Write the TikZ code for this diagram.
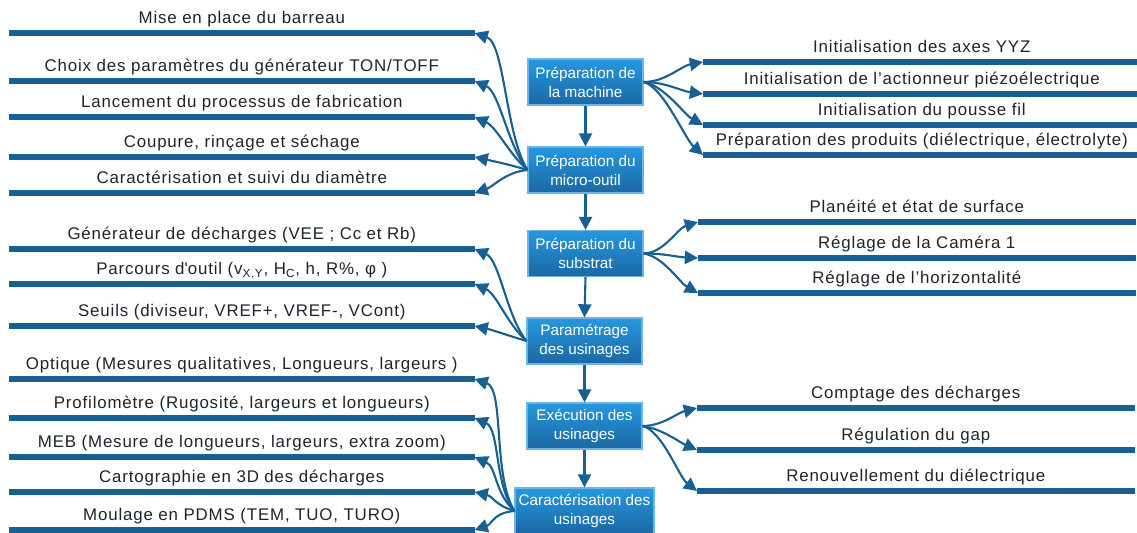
\documentclass[tikz,border=0pt]{standalone}
\usepackage{fontspec}
\setmainfont{Liberation Sans}
\newfontfamily\itemfont[LetterSpace=5]{Liberation Sans}
\usetikzlibrary{arrows.meta,positioning}
\definecolor{BarBlue}{RGB}{23,96,145}
\definecolor{BoxTop}{RGB}{38,152,222}
\definecolor{BoxBottom}{RGB}{26,104,164}
\definecolor{BoxEdge}{RGB}{110,180,230}
\definecolor{TextDark}{RGB}{30,36,44}
\tikzset{
  stage/.style={draw=BoxEdge, line width=0.6pt, top color=BoxTop, bottom color=BoxBottom,
    text=white, align=center, font=\fontsize{8.7}{10.8}\selectfont,
    minimum width=2.3cm, minimum height=0.92cm, inner sep=1pt},
  litem/.style={anchor=south west, minimum width=9.3cm, text height=7.5pt, text depth=2pt,
    inner xsep=0pt, inner ysep=3pt, text=TextDark, font=\itemfont\fontsize{9.6}{11}\selectfont},
  ritem/.style={litem, minimum width=8.74cm},
  bar/.style={BarBlue, line width=3.4pt},
  feed/.style={BarBlue, line width=1.2pt, -{Triangle[length=7.5pt,width=7.5pt]}},
}

\begin{document}
\begin{tikzpicture}[x=0.02cm, y=0.02cm]
  \useasboundingbox (0,0) rectangle (1137,-533);

  % the six stages
  \node[stage] (b1) at (585.5,-82) {Préparation de\\la machine};
  \node[stage] (b2) at (585.5,-170) {Préparation du\\micro-outil};
  \node[stage] (b3) at (585.5,-253.5) {Préparation du\\substrat};
  \node[stage] (b4) at (584.5,-341) {Paramétrage\\des usinages};
  \node[stage] (b5) at (584.5,-426) {Exécution des\\usinages};
  \node[stage, minimum width=2.78cm] (b6) at (584.5,-511) {Caractérisation des\\usinages};

  \draw[feed] (b1.south) -- (b2.north);
  \draw[feed] (b2.south) -- (b3.north);
  \draw[feed] (b3.south) -- (b4.north);
  \draw[feed] (b4.south) -- (b5.north);
  \draw[feed] (b5.south) -- (b6.north);

  % left side items
  \node[litem] (l1) at (9,-33) {Mise en place du barreau};
  \node[litem] (l2) at (9,-81) {Choix des paramètres du générateur TON/TOFF};
  \node[litem] (l3) at (9,-117) {Lancement du processus de fabrication};
  \node[litem] (l4) at (9,-157) {Coupure, rinçage et séchage};
  \node[litem] (l5) at (9,-193) {Caractérisation et suivi du diamètre};
  \node[litem] (l6) at (9,-249) {Générateur de décharges (VEE ; Cc et Rb)};
  \node[litem] (l7) at (9,-284) {Parcours d\textquotesingle outil (v\textsubscript{X,Y}, H\textsubscript{C}, h, R\%, φ )};
  \node[litem] (l8) at (9,-326) {Seuils (diviseur, VREF+, VREF-, VCont)};
  \node[litem] (l9) at (9,-379) {Optique (Mesures qualitatives, Longueurs, largeurs )};
  \node[litem] (l10) at (9,-418) {Profilomètre (Rugosité, largeurs et longueurs)};
  \node[litem] (l11) at (9,-457) {MEB (Mesure de longueurs, largeurs, extra zoom)};
  \node[litem] (l12) at (9,-492) {Cartographie en 3D des décharges};
  \node[litem] (l13) at (9,-530) {Moulage en PDMS (TEM, TUO, TURO)};

  % right side items
  \node[ritem] (r1) at (703,-62) {Initialisation des axes YYZ};
  \node[ritem] (r2) at (703,-94) {Initialisation de l’actionneur piézoélectrique};
  \node[ritem] (r3) at (703,-125) {Initialisation du pousse fil};
  \node[ritem] (r4) at (703,-155) {Préparation des produits (diélectrique, électrolyte)};
  \node[ritem] (r5) at (698,-222) {Planéité et état de surface};
  \node[ritem] (r6) at (698,-258) {Réglage de la Caméra 1};
  \node[ritem] (r7) at (698,-293) {Réglage de l’horizontalité};
  \node[ritem] (r8) at (697,-408) {Comptage des décharges};
  \node[ritem] (r9) at (697,-450) {Régulation du gap};
  \node[ritem] (r10) at (697,-491) {Renouvellement du diélectrique};

  \foreach \n in {l1,l2,l3,l4,l5,l6,l7,l8,l9,l10,l11,l12,l13,r1,r2,r3,r4,r5,r6,r7,r8,r9,r10}
    \draw[bar] (\n.south west) -- (\n.south east);

  % micro-outil
  \draw[feed] (b2.west) .. controls +(-22,35) and +(30,-10) .. (l1.south east);
  \draw[feed] (b2.west) .. controls +(-20,25) and +(25,-11) .. (l2.south east);
  \draw[feed] (b2.west) .. controls +(-20,18) and +(22,-10) .. (l3.south east);
  \draw[feed] (b2.west) .. controls +(-20,6) and +(18,-4) .. (l4.south east);
  \draw[feed] (b2.west) .. controls +(-22,-2) and +(18,6) .. (l5.south east);
  % parametrage
  \draw[feed] (b4.west) .. controls +(-20,25) and +(25,-11) .. (l6.south east);
  \draw[feed] (b4.west) .. controls +(-20,18) and +(22,-10) .. (l7.south east);
  \draw[feed] (b4.west) .. controls +(-20,6) and +(18,-4) .. (l8.south east);
  % caracterisation
  \draw[feed] (b6.west) .. controls +(-22,35) and +(30,-10) .. (l9.south east);
  \draw[feed] (b6.west) .. controls +(-20,25) and +(25,-11) .. (l10.south east);
  \draw[feed] (b6.west) .. controls +(-20,18) and +(22,-10) .. (l11.south east);
  \draw[feed] (b6.west) .. controls +(-20,6) and +(18,-4) .. (l12.south east);
  \draw[feed] (b6.west) .. controls +(-22,-2) and +(18,6) .. (l13.south east);
  % machine
  \draw[feed] (b1.east) .. controls +(22,0) and +(-22,-4) .. (r1.south west);
  \draw[feed] (b1.east) .. controls +(22,0) and +(-22,3) .. (r2.south west);
  \draw[feed] (b1.east) .. controls +(20,-3) and +(-18,10) .. (r3.south west);
  \draw[feed] (b1.east) .. controls +(20,-5) and +(-18,16) .. (r4.south west);
  % substrat
  \draw[feed] (b3.east) .. controls +(20,0) and +(-20,-6) .. (r5.south west);
  \draw[feed] (b3.east) .. controls +(22,0) and +(-22,1) .. (r6.south west);
  \draw[feed] (b3.east) .. controls +(20,-3) and +(-18,10) .. (r7.south west);
  % execution
  \draw[feed] (b5.east) .. controls +(20,0) and +(-20,-5) .. (r8.south west);
  \draw[feed] (b5.east) .. controls +(20,-3) and +(-18,8) .. (r9.south west);
  \draw[feed] (b5.east) .. controls +(20,-5) and +(-18,14) .. (r10.south west);
\end{tikzpicture}
\end{document}
